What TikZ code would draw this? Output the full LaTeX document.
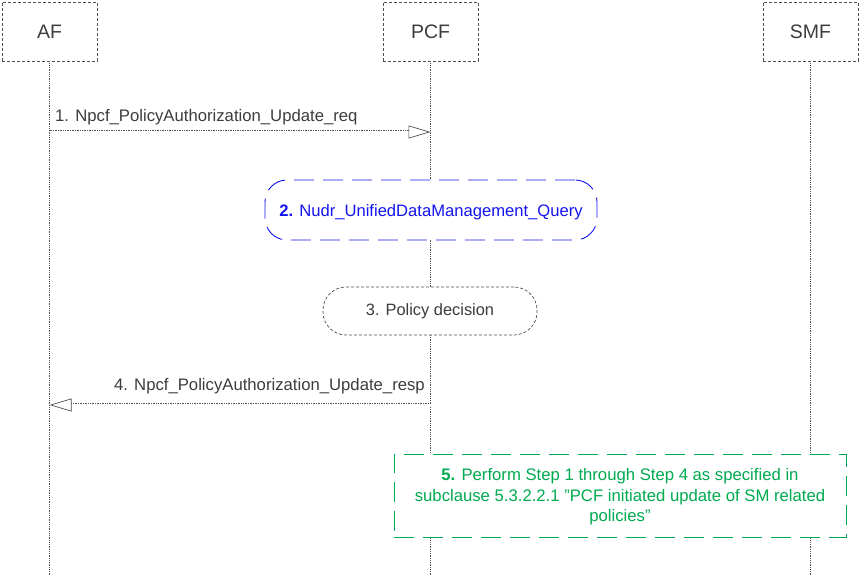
\documentclass[tikz,border=0pt]{standalone}
\usepackage{fontspec}
\setmainfont{Liberation Sans}
\usetikzlibrary{arrows.meta}
\definecolor{txtgray}{RGB}{60,60,60}
\definecolor{linegray}{RGB}{80,80,80}
\definecolor{stepgreen}{RGB}{0,170,80}
\definecolor{stepblue}{RGB}{20,20,240}
\tikzset{
  actor/.style={draw=linegray, densely dashed, line width=0.9pt, minimum width=95pt, minimum height=59pt, inner sep=0pt, font=\fontsize{19.5}{22}\selectfont, text=txtgray},
  lifeline/.style={draw=linegray, densely dotted, line width=0.8pt},
  msg/.style={draw=linegray, densely dotted, line width=0.7pt, double=white, double distance=3pt, -{Triangle[open, length=22pt, width=13pt]}},
  msglabel/.style={font=\fontsize{16.7}{19}\selectfont, text=txtgray, inner sep=0pt},
  bluebox/.style={draw=stepblue, line width=0.9pt, dash pattern=on 20pt off 9pt, rounded corners=22pt, fill=white, minimum width=332pt, minimum height=60pt, inner sep=0pt, text=stepblue, font=\fontsize{16.6}{19}\selectfont},
  graybox/.style={draw=linegray, line width=0.7pt, densely dashed, rounded corners=23pt, fill=white, minimum width=214pt, minimum height=48pt, inner sep=0pt, text=txtgray, font=\fontsize{16.4}{19}\selectfont},
  greenbox/.style={draw=stepgreen, line width=0.9pt, dash pattern=on 20pt off 9pt, fill=white, minimum width=452pt, minimum height=83pt, inner sep=0pt},
  greentext/.style={text=stepgreen, align=center, inner sep=0pt, font=\fontsize{16.7}{20.5}\selectfont}
}
\begin{document}
\begin{tikzpicture}[x=1pt,y=-1pt]
\useasboundingbox (0,0) rectangle (861,575);
\node[actor] (af) at (49.5,31.5) {AF};
\node[actor] (pcf) at (430.5,31.5) {PCF};
\node[actor] (smf) at (810.5,31.5) {SMF};
\coordinate (bot) at (0,575);
\coordinate (y1) at (0,132);
\coordinate (y4) at (0,405);
\draw[lifeline] (af.south) -- (af.south |- bot);
\draw[lifeline] (pcf.south) -- (pcf.south |- bot);
\draw[lifeline] (smf.south) -- (smf.south |- bot);
\draw[msg] (af.south |- y1) -- (pcf.south |- y1);
\node[msglabel, anchor=west] (l1) at (55,117) {1. Npcf\_PolicyAuthorization\_Update\_req};
\node[bluebox] (s2) at (431,210) {};
\node[text=stepblue, inner sep=0pt, font=\fontsize{16.6}{19}\selectfont] (t2) at (431,212) {\textbf{2.} Nudr\_UnifiedDataManagement\_Query};
\node[graybox] (s3) at (430,311) {3. Policy decision};
\draw[msg] (pcf.south |- y4) -- (af.south |- y4);
\node[msglabel, anchor=east] (l4) at (425,386) {4. Npcf\_PolicyAuthorization\_Update\_resp};
\node[greenbox] (s5) at (620,495.5) {};
\node[greentext] (t5) at (620,497) {\textbf{5.} Perform Step 1 through Step 4 as specified in\\subclause 5.3.2.2.1 \symbol{34}PCF initiated update of SM related\\policies\symbol{34}};
\end{tikzpicture}
\end{document}
